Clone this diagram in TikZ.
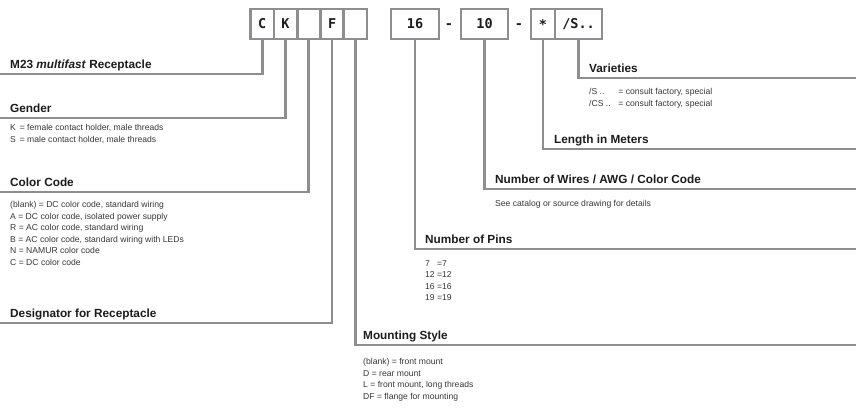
\documentclass[tikz,border=0pt]{standalone}
\usepackage{fontspec}
\setmainfont{Liberation Sans}
\newfontfamily\codefont{DejaVu Sans Mono}
\usetikzlibrary{positioning}
\definecolor{rulegray}{RGB}{142,142,146}
\definecolor{txtdark}{RGB}{28,28,28}
\definecolor{txtgray}{RGB}{55,55,55}

\begin{document}
\begin{tikzpicture}[
    x=1pt, y=-1pt,
    codebox/.style={rectangle, draw=rulegray, line width=2.7pt, fill=white, minimum height=30pt, inner sep=0pt, text=txtdark, font=\codefont\bfseries\fontsize{13.5}{13.5}\selectfont},
    lead/.style={draw=rulegray, line width=2.7pt},
    title/.style={anchor=base west, inner sep=0pt, text=txtdark, font=\bfseries\fontsize{11.8}{13}\selectfont},
    desc/.style={anchor=north west, inner sep=0pt, align=left, text=txtgray, font=\fontsize{8.6}{11.6}\selectfont}
]
\useasboundingbox (0,0) rectangle (856,416);

% end points of the leads
\coordinate (eRecept) at (0,74);
\coordinate (eGender) at (0,118);
\coordinate (eColor) at (0,192);
\coordinate (eDesign) at (0,323);
\coordinate (eMount) at (856,345);
\coordinate (ePins) at (856,249);
\coordinate (eWires) at (856,189);
\coordinate (eLength) at (856,149);
\coordinate (eVar) at (856,78);

% Code boxes
\node (bC) at (262.2,24) [codebox, minimum width=23.3pt] {C};
\node (bK) at (285.5,24) [codebox, minimum width=23.3pt] {K};
\node (bColor) at (308.8,24) [codebox, minimum width=23.3pt] {};
\node (bF) at (332.1,24) [codebox, minimum width=23.3pt] {F};
\node (bMount) at (355.4,24) [codebox, minimum width=23.3pt] {};
\node (bPins) at (415,24) [codebox, minimum width=48pt] {16};
\node (dashA) at (449,26) [inner sep=0pt, text=txtdark, font=\codefont\bfseries\fontsize{13.5}{13.5}\selectfont] {-};
\node (bWires) at (484.5,24) [codebox, minimum width=47pt] {10};
\node (dashB) at (519,26) [inner sep=0pt, text=txtdark, font=\codefont\bfseries\fontsize{13.5}{13.5}\selectfont] {-};
\node (bLength) at (543,24) [codebox, minimum width=24pt] {*};
\node (bVar) at (578.5,24) [codebox, minimum width=47pt] {/S..};

% Leads
\draw[lead] (bC.south) |- (eRecept);
\draw[lead] (bK.south) |- (eGender);
\draw[lead] (bColor.south) |- (eColor);
\draw[lead] (bF.south) |- (eDesign);
\draw[lead] (bMount.south) |- (eMount);
\draw[lead] (bPins.south) |- (ePins);
\draw[lead] (bWires.south) |- (eWires);
\draw[lead] (bLength.south) |- (eLength);
\draw[lead] (bVar.south) |- (eVar);

% Left side
\node (tRecept) at (10,68) [title] {M23 \textit{multifast} Receptacle};

\node (tGender) at (10,112) [title] {Gender};
\node (dGender) at (10,124) [desc] {K\hspace{0.45em}= female contact holder, male threads\\
  S\hspace{0.45em}= male contact holder, male threads};

\node (tColor) at (10,186) [title] {Color Code};
\node (dColor) at (10,201) [desc] {(blank) = DC color code, standard wiring\\
  A = DC color code, isolated power supply\\
  R = AC color code, standard wiring\\
  B = AC color code, standard wiring with LEDs\\
  N = NAMUR color code\\
  C = DC color code};

\node (tDesign) at (10,317) [title] {Designator for Receptacle};

% Right side
\node (tMount) at (363,339) [title] {Mounting Style};
\node (dMount) at (363,358) [desc] {(blank) = front mount\\
  D = rear mount\\
  L = front mount, long threads\\
  DF = flange for mounting};

\node (tPins) at (425,243) [title] {Number of Pins};
\node (dPins) at (425,260) [desc] {7\hphantom{2} =7\\
  12 =12\\
  16 =16\\
  19 =19};

\node (tWires) at (495,183) [title] {Number of Wires / AWG / Color Code};
\node (dWires) at (495,200) [desc] {See catalog or source drawing for details};

\node (tLength) at (554,143) [title] {Length in Meters};

\node (tVar) at (589,72) [title] {Varieties};
\node (dVar) at (589,88) [desc] {/S ..\hphantom{C}\hspace{0.9em}= consult factory, special\\
  /CS ..\hspace{0.9em}= consult factory, special};

\end{tikzpicture}
\end{document}
